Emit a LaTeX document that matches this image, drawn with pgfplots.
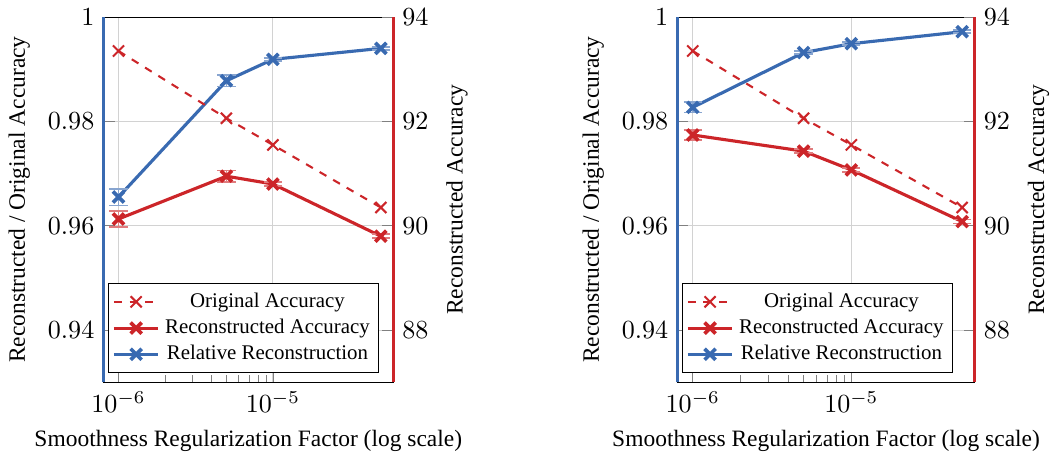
\documentclass[border=0pt]{standalone}
\usepackage{pgfplots}
\pgfplotsset{compat=1.18}
\usepackage{fontspec}
\setmainfont{Liberation Serif}
\definecolor{cblue}{RGB}{57,106,177}
\definecolor{cred}{RGB}{204,37,41}
\tikzset{
  relline/.style={cblue, line width=1.2pt, mark=x, mark size=3pt, mark options={solid, line width=1.4pt}},
  recline/.style={cred, line width=1.2pt, mark=x, mark size=3pt, mark options={solid, line width=1.4pt}},
  origline/.style={cred, thick, dashed, mark=x, mark size=3pt, mark options={solid}},
}
\begin{document}
\begin{tikzpicture}
% ---------- left panel ----------
\begin{axis}[xmode=log, scale only axis, width=111pt, height=140pt,
    xmin=8e-7, xmax=6e-5, xtick={1e-6,1e-5},
    every axis label/.append style={font=\small},
    ymin=0.93, ymax=1.0, ytick={0.94,0.96,0.98,1},
    grid=major, major grid style={gray!35},
    xtick pos=left, ytick pos=left,
    ylabel={Reconstructed / Original Accuracy},
    xlabel={Smoothness Regularization Factor (log scale)},
    after end axis/.code={\draw[cblue, line width=1.2pt] (rel axis cs:0,0) -- (rel axis cs:0,1);}]
\addplot[relline, error bars/y dir=both, error bars/y explicit,
  error bars/error bar style={cblue!60, line width=0.6pt},
  error bars/error mark options={rotate=90, mark size=3.5pt, cblue!60, line width=0.6pt}] coordinates {
 (1e-6,0.9655) +- (0,0.0016)
 (5e-6,0.9878) +- (0,0.0011)
 (1e-5,0.9919) +- (0,0.0003)
 (5e-5,0.9940) +- (0,0.0003)
};
\end{axis}
\begin{axis}[xmode=log, scale only axis, width=111pt, height=140pt,
    xmin=8e-7, xmax=6e-5, xtick={1e-6,1e-5},
    every axis label/.append style={font=\small},
    axis y line*=right, axis x line=none,
    ymin=87, ymax=94, ytick={88,90,92,94},
    y axis line style={draw=cred, line width=1.2pt},
    ylabel={Reconstructed Accuracy},
    legend style={at={(0.015,0.025)}, anchor=south west, font=\footnotesize,
      cells={anchor=center}, inner sep=1.5pt, row sep=-1pt}]
\addplot[origline] coordinates {
 (1e-6,93.35) (5e-6,92.06) (1e-5,91.55) (5e-5,90.35)
};
\addlegendentry{Original Accuracy}
\addplot[recline, error bars/y dir=both, error bars/y explicit,
  error bars/error bar style={cred!60, line width=0.6pt},
  error bars/error mark options={rotate=90, mark size=3.5pt, cred!60, line width=0.6pt}] coordinates {
 (1e-6,90.13) +- (0,0.155)
 (5e-6,90.95) +- (0,0.11)
 (1e-5,90.80) +- (0,0.04)
 (5e-5,89.80) +- (0,0.04)
};
\addlegendentry{Reconstructed Accuracy}
\addlegendimage{relline}
\addlegendentry{Relative Reconstruction}
\end{axis}
% ---------- right panel ----------
\begin{axis}[xshift=220pt, xmode=log, scale only axis, width=114pt, height=140pt,
    xmin=8e-7, xmax=6e-5, xtick={1e-6,1e-5},
    every axis label/.append style={font=\small},
    ymin=0.93, ymax=1.0, ytick={0.94,0.96,0.98,1},
    grid=major, major grid style={gray!35},
    xtick pos=left, ytick pos=left,
    ylabel={Reconstructed / Original Accuracy},
    xlabel={Smoothness Regularization Factor (log scale)},
    after end axis/.code={\draw[cblue, line width=1.2pt] (rel axis cs:0,0) -- (rel axis cs:0,1);}]
\addplot[relline, error bars/y dir=both, error bars/y explicit,
  error bars/error bar style={cblue!60, line width=0.6pt},
  error bars/error mark options={rotate=90, mark size=3.5pt, cblue!60, line width=0.6pt}] coordinates {
 (1e-6,0.9827) +- (0,0.0010)
 (5e-6,0.9932) +- (0,0.0003)
 (1e-5,0.9949) +- (0,0.0003)
 (5e-5,0.9972) +- (0,0.0003)
};
\end{axis}
\begin{axis}[xshift=220pt, xmode=log, scale only axis, width=114pt, height=140pt,
    xmin=8e-7, xmax=6e-5, xtick={1e-6,1e-5},
    every axis label/.append style={font=\small},
    axis y line*=right, axis x line=none,
    ymin=87, ymax=94, ytick={88,90,92,94},
    y axis line style={draw=cred, line width=1.2pt},
    ylabel={Reconstructed Accuracy},
    legend style={at={(0.015,0.025)}, anchor=south west, font=\footnotesize,
      cells={anchor=center}, inner sep=1.5pt, row sep=-1pt}]
\addplot[origline] coordinates {
 (1e-6,93.35) (5e-6,92.06) (1e-5,91.55) (5e-5,90.35)
};
\addlegendentry{Original Accuracy}
\addplot[recline, error bars/y dir=both, error bars/y explicit,
  error bars/error bar style={cred!60, line width=0.6pt},
  error bars/error mark options={rotate=90, mark size=3.5pt, cred!60, line width=0.6pt}] coordinates {
 (1e-6,91.74) +- (0,0.10)
 (5e-6,91.43) +- (0,0.04)
 (1e-5,91.07) +- (0,0.04)
 (5e-5,90.08) +- (0,0.04)
};
\addlegendentry{Reconstructed Accuracy}
\addlegendimage{relline}
\addlegendentry{Relative Reconstruction}
\end{axis}
\end{tikzpicture}
\end{document}
